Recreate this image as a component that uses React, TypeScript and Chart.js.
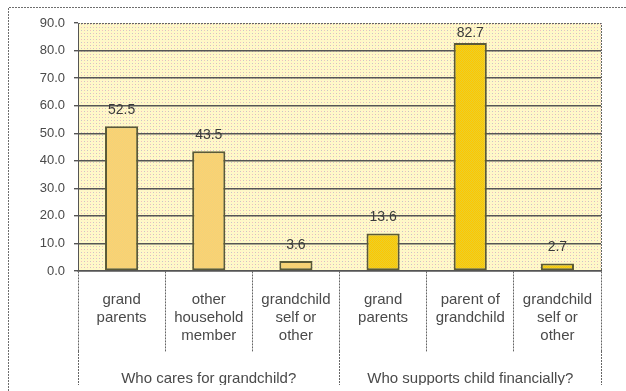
import { useEffect, useRef } from 'react';
import { Chart, registerables } from 'chart.js';

Chart.register(...registerables);

// Category labels (multi-line) and the two question groups
const categories: string[][] = [
  ['grand', 'parents'],
  ['other', 'household', 'member'],
  ['grandchild', 'self or', 'other'],
  ['grand', 'parents'],
  ['parent of', 'grandchild'],
  ['grandchild', 'self or', 'other'],
];
const groups = ['Who cares for grandchild?', 'Who supports child financially?'];

// Share of respondents (%) per answer
const shares = [52.5, 43.5, 3.6, 13.6, 82.7, 2.7];
// Which question each answer belongs to
const groupOfBar = [0, 0, 0, 1, 1, 1];

const yMin = 0;
const yMax = 90;
const yStep = 10;

const FONT = "'Liberation Sans', Arial, sans-serif";

function makePattern(
  w: number,
  h: number,
  base: string,
  dots: Array<[number, number, number, number, string]>
): CanvasPattern | string {
  const c = document.createElement('canvas');
  c.width = w;
  c.height = h;
  const g = c.getContext('2d');
  if (!g) return base;
  g.fillStyle = base;
  g.fillRect(0, 0, w, h);
  for (const [x, y, dw, dh, col] of dots) {
    g.fillStyle = col;
    g.fillRect(x, y, dw, dh);
  }
  return g.createPattern(c, 'repeat') || base;
}

export default function App() {
  const ref = useRef<HTMLCanvasElement>(null);

  useEffect(() => {
    const canvas = ref.current;
    if (!canvas) return;

    const plotFill = makePattern(6, 6, '#FFF8C8', [
      [0, 0, 1, 1, '#F4BEBE'],
      [3, 0, 1, 1, '#C6C6C6'],
      [0, 3, 1, 1, '#C6C6C6'],
      [3, 3, 1, 1, '#F4BEBE'],
    ]);
    const lightBar = makePattern(2, 2, '#FFD070', [
      [1, 0, 1, 1, '#EED47A'],
      [0, 1, 1, 1, '#EED47A'],
    ]);
    const strongBar = makePattern(2, 2, '#FFC600', [
      [1, 0, 1, 1, '#E8D02C'],
      [0, 1, 1, 1, '#E8D02C'],
    ]);

    const backgroundPlugin = {
      id: 'pageBackground',
      beforeDraw(chart: Chart) {
        const { ctx, chartArea } = chart;
        ctx.save();
        ctx.fillStyle = '#ffffff';
        ctx.fillRect(0, 0, chart.width, chart.height);
        ctx.fillStyle = plotFill as any;
        ctx.fillRect(
          chartArea.left,
          chartArea.top,
          chartArea.right - chartArea.left,
          chartArea.bottom - chartArea.top
        );
        // outer dashed frame
        ctx.strokeStyle = '#6e6e6e';
        ctx.lineWidth = 1;
        ctx.setLineDash([2, 1]);
        ctx.beginPath();
        ctx.moveTo(8.5, chart.height);
        ctx.lineTo(8.5, 7.5);
        ctx.lineTo(chart.width, 7.5);
        ctx.stroke();
        ctx.restore();
      },
    };

    const valueLabelPlugin = {
      id: 'valueLabels',
      afterDatasetsDraw(chart: Chart) {
        const { ctx } = chart;
        const meta = chart.getDatasetMeta(0);
        ctx.save();
        ctx.font = `14px ${FONT}`;
        ctx.fillStyle = '#3a3a3a';
        ctx.textAlign = 'center';
        ctx.textBaseline = 'middle';
        meta.data.forEach((el: any, i: number) => {
          const y = Math.max(el.y - 16, chart.chartArea.top + 10);
          ctx.fillText(shares[i].toFixed(1), el.x, y);
        });
        ctx.restore();
      },
    };

    const framePlugin = {
      id: 'plotFrame',
      afterDraw(chart: Chart) {
        const { ctx, chartArea } = chart;
        ctx.save();
        ctx.strokeStyle = '#666';
        ctx.lineWidth = 1;
        ctx.setLineDash([2, 1]);
        ctx.beginPath();
        ctx.moveTo(chartArea.left, chartArea.top + 0.5);
        ctx.lineTo(chartArea.right + 0.5, chartArea.top + 0.5);
        ctx.lineTo(chartArea.right + 0.5, chartArea.bottom);
        ctx.stroke();
        ctx.restore();
      },
    };

    const chart = new Chart(canvas, {
      type: 'bar',
      data: {
        labels: categories as any,
        datasets: [
          {
            data: shares,
            xAxisID: 'x',
            backgroundColor: groupOfBar.map((g) => (g === 0 ? lightBar : strongBar)) as any,
            borderColor: '#5A5A38',
            borderWidth: 2,
            borderSkipped: false,
            barPercentage: 0.38,
            categoryPercentage: 1,
          },
        ],
      },
      options: {
        animation: false,
        responsive: false,
        layout: { padding: { left: 0, top: 23, right: 25, bottom: 6 } },
        plugins: {
          legend: { display: false },
          tooltip: { enabled: false },
        },
        scales: {
          y: {
            min: yMin,
            max: yMax,
            afterFit: (s: any) => {
              s.width = 78;
            },
            ticks: {
              stepSize: yStep,
              callback: (v: any) => Number(v).toFixed(1),
              color: '#4a4a4a',
              font: { family: FONT, size: 13 },
              padding: 9,
            },
            grid: {
              color: (c: any) => (c.tick && c.tick.value === yMax ? 'rgba(0,0,0,0)' : '#555'),
              tickColor: '#555',
              tickLength: 4,
              lineWidth: 1.4,
            },
            border: { color: '#555' },
          },
          x: {
            type: 'category',
            position: 'bottom',
            weight: 0,
            offset: true,
            afterFit: (s: any) => {
              s.height = 80;
            },
            grid: {
              offset: true,
              drawOnChartArea: false,
              tickLength: 81,
              tickColor: '#666',
              tickBorderDash: [2, 1],
            } as any,
            border: { color: '#555', width: 1.4 },
            ticks: {
              padding: -61,
              color: '#4a4a4a',
              font: { family: FONT, size: 15, lineHeight: 1.2 },
              maxRotation: 0,
              autoSkip: false,
            },
          },
          x2: {
            type: 'category',
            labels: groups,
            position: 'bottom',
            weight: 1,
            offset: true,
            afterFit: (s: any) => {
              s.height = 34;
            },
            grid: {
              offset: true,
              drawOnChartArea: false,
              tickLength: 34,
              tickColor: '#666',
              tickBorderDash: [2, 1],
            } as any,
            border: { display: false },
            ticks: {
              padding: -15,
              color: '#4a4a4a',
              font: { family: FONT, size: 15 },
              maxRotation: 0,
              autoSkip: false,
            },
          },
        },
      },
      plugins: [backgroundPlugin, valueLabelPlugin, framePlugin],
    });

    return () => chart.destroy();
  }, []);

  return (
    <div style={{ position: 'fixed', left: 0, top: 0, width: 626, height: 391, background: '#fff' }}>
      <canvas ref={ref} width={626} height={391} style={{ display: 'block' }} />
    </div>
  );
}
